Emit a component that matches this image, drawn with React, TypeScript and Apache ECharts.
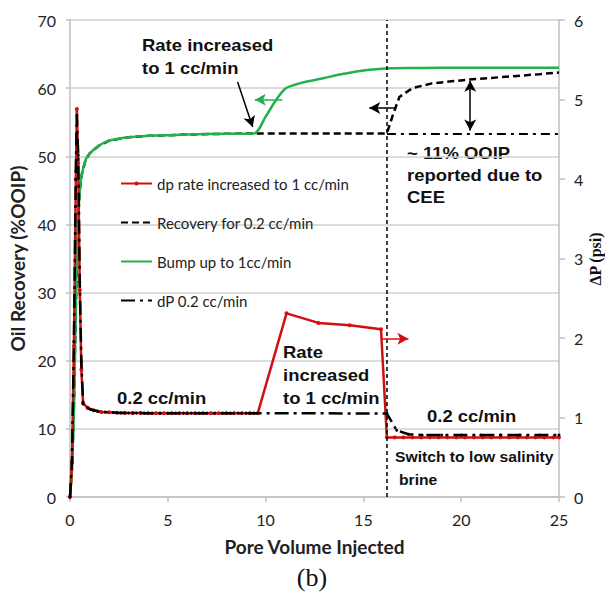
import React, { useEffect, useRef } from "react";
import * as echarts from "echarts";

// ---- Data ----
// dp rate increased to 1 cc/min (psi, right axis)
const redX = [0, 0.1, 0.2, 0.3, 0.35, 0.42, 0.5, 0.58, 0.67, 0.9, 1.2, 1.6, 2.0, 2.4, 2.8, 3.2, 3.6, 4.0, 4.4, 4.8, 5.2, 5.6, 6.0, 6.4, 6.8, 7.2, 7.6, 8.0, 8.4, 8.8, 9.2, 9.6, 11.07, 12.7, 14.3, 15.9, 16.2, 16.6, 17.05, 17.5, 17.95, 18.4, 18.85, 19.3, 19.75, 20.2, 20.65, 21.1, 21.55, 22.0, 22.45, 22.9, 23.35, 23.8, 24.25, 24.7, 25.0];
const redY = [0, 0.43, 1.9, 4.0, 4.88, 4.2, 2.6, 1.6, 1.18, 1.12, 1.09, 1.07, 1.065, 1.06, 1.058, 1.057, 1.056, 1.055, 1.055, 1.055, 1.055, 1.055, 1.055, 1.055, 1.055, 1.055, 1.055, 1.055, 1.055, 1.055, 1.055, 1.055, 2.31, 2.19, 2.16, 2.11, 0.75, 0.75, 0.75, 0.75, 0.75, 0.75, 0.75, 0.75, 0.75, 0.75, 0.75, 0.75, 0.75, 0.75, 0.75, 0.75, 0.75, 0.75, 0.75, 0.75, 0.75];

// dP 0.2 cc/min (psi, right axis)
const dpX = [0, 0.1, 0.2, 0.3, 0.35, 0.42, 0.5, 0.58, 0.67, 1.05, 1.4, 1.8, 2.2, 2.6, 3.0, 3.4, 3.8, 4.2, 4.6, 5.0, 5.4, 5.8, 6.2, 6.6, 7.0, 7.4, 7.8, 8.2, 8.6, 9.0, 9.4, 16.2, 16.7, 17.3, 18.0, 19.0, 20.0, 21.0, 22.0, 23.0, 24.0, 25.0];
const dpY = [0, 0.45, 1.95, 4.1, 4.8, 4.3, 2.7, 1.7, 1.17, 1.1, 1.08, 1.07, 1.062, 1.058, 1.057, 1.056, 1.055, 1.055, 1.055, 1.055, 1.055, 1.055, 1.055, 1.055, 1.055, 1.055, 1.055, 1.055, 1.055, 1.055, 1.055, 1.05, 0.84, 0.79, 0.78, 0.78, 0.78, 0.78, 0.78, 0.78, 0.78, 0.78];

// Bump up to 1cc/min (%OOIP, left axis)
const greenX = [0, 0.1, 0.2, 0.3, 0.4, 0.5, 0.6, 0.8, 1.0, 1.5, 2, 3, 4, 5, 6, 8, 9.4, 10.0, 10.5, 11.0, 11.5, 12.0, 13.0, 14.0, 15.0, 16.2, 18, 20, 22, 25];
const greenY = [0, 4, 13, 28, 40, 45, 47.3, 49.5, 50.4, 51.6, 52.3, 52.8, 53.0, 53.1, 53.2, 53.3, 53.35, 55.8, 58.1, 59.9, 60.5, 60.9, 61.5, 62.1, 62.6, 62.9, 62.95, 63.0, 63.0, 63.0];

// Recovery for 0.2 cc/min (%OOIP, left axis)
const recX = [0, 0.1, 0.2, 0.3, 0.4, 0.5, 0.6, 0.8, 1.0, 1.5, 2, 3, 4, 5, 6, 8, 9.4, 16.2, 16.5, 16.84, 17.5, 18.5, 19.5, 20.4, 21.5, 22.7, 24, 25];
const recY = [0, 4, 13, 28, 40, 45, 47.3, 49.5, 50.4, 51.6, 52.3, 52.8, 53.0, 53.1, 53.2, 53.3, 53.35, 53.35, 56.0, 58.7, 60.0, 60.7, 61.0, 61.25, 61.5, 61.75, 62.05, 62.3];

// Axis ticks
const xTicks = { min: 0, max: 25, interval: 5 };
const leftTicks = { min: 0, max: 70, interval: 10 };
const rightTicks = { min: 0, max: 6, interval: 1 };

// Annotation lines (data coordinates)
const switchX = 16.2;
const extLine = [[16.2, 53.35], [25, 53.35]]; // dash-dot extrapolation (left axis)
const blackArrows = [
  [[8.57, 60.9], [9.34, 54.3]],
  [[16.68, 57.1], [15.3, 57.1]],
];
const doubleArrow = [[20.46, 61.1], [20.46, 53.8]];
const greenArrow = [[10.85, 58.3], [9.45, 58.3]];
const redArrow = [[15.97, 1.99], [17.3, 1.99]]; // right axis

const legendNames = [
  "dp rate increased to 1 cc/min",
  "Recovery for 0.2 cc/min",
  "Bump up to 1cc/min",
  "dP 0.2 cc/min",
];

const RED = "#d01010";
const GREEN = "#22b14c";
const GRAY = "#bfbfbf";
const SANS = "'Liberation Sans', Arial, sans-serif";
const LATO = "Lato, 'Open Sans', sans-serif";
const SERIF = "'Liberation Serif', 'Times New Roman', serif";

const zip = (xs: number[], ys: number[]) => xs.map((x, i) => [x, ys[i]]);

export default function App() {
  const ref = useRef<HTMLDivElement>(null);
  useEffect(() => {
    if (!ref.current) return;
    const chart = echarts.init(ref.current, null, { renderer: "svg" });
    const arrowLine = (pairs: number[][][], color: string, both = false) =>
      pairs.map((p) => [
        { coord: p[0], symbol: both ? "arrow" : "none", symbolSize: [9, 11] },
        { coord: p[1], symbol: "arrow", symbolSize: [9, 11] },
      ]);
    const annoText = (text: string, x: number, y: number, size: number, lh: number) => ({
      type: "text",
      x,
      y,
      scaleX: 1.12,
      silent: true,
      style: {
        text,
        fill: "#111",
        font: `bold ${size}px ${SANS}`,
        lineHeight: lh,
        align: "left",
        verticalAlign: "top",
      },
    });
    chart.setOption({
      animation: false,
      backgroundColor: "#fff",
      grid: { left: 70, right: 46, top: 20, bottom: 95, containLabel: false, outerBoundsMode: "none" },
      legend: {
        data: [
          { name: legendNames[0], itemStyle: { borderWidth: 0 } },
          { name: legendNames[1], itemStyle: { opacity: 0 } },
          { name: legendNames[2], itemStyle: { opacity: 0 } },
          { name: legendNames[3], itemStyle: { opacity: 0 } },
        ],
        orient: "vertical",
        left: 120,
        top: 176,
        padding: 0,
        itemWidth: 31,
        itemHeight: 5,
        itemGap: 24,
        textStyle: { fontFamily: LATO, fontSize: 15, color: "#222", lineHeight: 14.5 },
        selectedMode: false,
      },
      xAxis: {
        type: "value",
        ...xTicks,
        name: "Pore Volume Injected",
        nameLocation: "middle",
        nameGap: 40,
        nameTextStyle: { fontFamily: LATO, fontWeight: "bold", fontSize: 19, color: "#222" },
        axisLine: { show: true, lineStyle: { color: GRAY, width: 1.5 } },
        axisTick: { show: true, length: 5, lineStyle: { color: GRAY, width: 1.5 } },
        axisLabel: { fontFamily: LATO, fontSize: 16, color: "#222", margin: 14 },
        splitLine: { show: false },
      },
      yAxis: [
        {
          type: "value",
          ...leftTicks,
          position: "left",
          name: "Oil Recovery (%OOIP)",
          nameLocation: "middle",
          nameRotate: 90,
          nameGap: 39,
          nameTextStyle: { fontFamily: LATO, fontWeight: "bold", fontSize: 19, color: "#222" },
          axisLine: { show: true, lineStyle: { color: GRAY, width: 1.5 } },
          axisTick: { show: true, length: 4, lineStyle: { color: GRAY, width: 1.5 } },
          axisLabel: { fontFamily: LATO, fontSize: 16, color: "#222", margin: 14 },
          splitLine: { show: true, lineStyle: { color: "#cfcfcf", width: 1.5 } },
        },
        {
          type: "value",
          ...rightTicks,
          position: "right",
          axisLine: { show: true, lineStyle: { color: GRAY, width: 1.5 } },
          axisTick: { show: true, length: 6, lineStyle: { color: GRAY, width: 1.5 } },
          axisLabel: { fontFamily: LATO, fontSize: 16, color: "#222", margin: 15 },
          splitLine: { show: false },
        },
      ],
      series: [
        {
          name: "Recovery for 0.2 cc/min",
          type: "line",
          yAxisIndex: 0,
          data: zip(recX, recY),
          showSymbol: false,
          symbol: "none",
          lineStyle: { color: "#000", width: 2.5, type: [7, 4] },
          itemStyle: { color: "#000" },
          z: 2,
        },
        {
          name: "Bump up to 1cc/min",
          type: "line",
          yAxisIndex: 0,
          data: zip(greenX, greenY),
          symbol: "none",
          smooth: 0.3,
          lineStyle: { color: GREEN, width: 2.5 },
          itemStyle: { color: GREEN },
          z: 3,
        },
        {
          name: "dp rate increased to 1 cc/min",
          type: "line",
          yAxisIndex: 1,
          data: zip(redX, redY),
          symbol: "circle",
          symbolSize: 4,
          lineStyle: { color: RED, width: 2.5 },
          itemStyle: { color: RED },
          z: 4,
        },
        {
          name: "dP 0.2 cc/min",
          type: "line",
          yAxisIndex: 1,
          data: zip(dpX, dpY),
          symbol: "circle",
          symbolSize: 3,
          lineStyle: { color: "#000", width: 2.5, type: [14, 5, 3, 5] },
          itemStyle: { color: "#000" },
          z: 5,
        },
        {
          name: "annoBlack",
          type: "line",
          yAxisIndex: 0,
          data: [],
          markLine: {
            silent: true,
            animation: false,
            label: { show: false },
            lineStyle: { color: "#000", width: 1.5, type: "solid" },
            data: [
              ...arrowLine(blackArrows, "#000"),
              ...arrowLine([doubleArrow], "#000", true),
            ],
          },
          z: 6,
        },
        {
          name: "annoExt",
          type: "line",
          yAxisIndex: 0,
          data: [],
          markLine: {
            silent: true,
            animation: false,
            label: { show: false },
            symbol: "none",
            lineStyle: { color: "#000", width: 2, type: [9, 5, 3, 5] },
            data: [[{ coord: extLine[0] }, { coord: extLine[1] }]],
          },
          z: 6,
        },
        {
          name: "annoVline",
          type: "line",
          yAxisIndex: 0,
          data: [],
          markLine: {
            silent: true,
            animation: false,
            label: { show: false },
            symbol: "none",
            lineStyle: { color: "#000", width: 1.5, type: [4, 3] },
            data: [{ xAxis: switchX }],
          },
          z: 6,
        },
        {
          name: "annoGreen",
          type: "line",
          yAxisIndex: 0,
          data: [],
          markLine: {
            silent: true,
            animation: false,
            label: { show: false },
            lineStyle: { color: GREEN, width: 1.5, type: "solid" },
            data: arrowLine([greenArrow], GREEN),
          },
          z: 6,
        },
        {
          name: "annoRed",
          type: "line",
          yAxisIndex: 1,
          data: [],
          markLine: {
            silent: true,
            animation: false,
            label: { show: false },
            lineStyle: { color: RED, width: 1.5, type: "solid" },
            data: arrowLine([redArrow], RED),
          },
          z: 6,
        },
      ],
      graphic: [
        annoText("Rate increased\nto 1 cc/min", 142, 33.5, 16.5, 23),
        annoText("~ 11% OOIP\nreported due to\nCEE", 407, 142, 16.5, 22),
        annoText("0.2 cc/min", 117, 387, 16.5, 22),
        annoText("Rate\nincreased\nto 1 cc/min", 283, 340.5, 16.5, 23),
        annoText("0.2 cc/min", 427, 405, 16.5, 22),
        annoText("Switch to low salinity", 395, 449, 14, 16),
        annoText("brine", 399, 472, 14, 16),
        {
          type: "text",
          x: 595,
          y: 259,
          rotation: Math.PI / 2,
          silent: true,
          style: {
            text: "ΔP (psi)",
            fill: "#111",
            font: `bold 16px ${SERIF}`,
            align: "center",
            verticalAlign: "middle",
          },
        },
        {
          type: "text",
          x: 312,
          y: 577,
          silent: true,
          style: {
            text: "(b)",
            fill: "#111",
            font: `26px ${SERIF}`,
            align: "center",
            verticalAlign: "middle",
          },
        },
      ],
    });
    return () => chart.dispose();
  }, []);
  return <div ref={ref} style={{ width: 605, height: 592, position: "absolute", left: 0, top: 0 }} />;
}
